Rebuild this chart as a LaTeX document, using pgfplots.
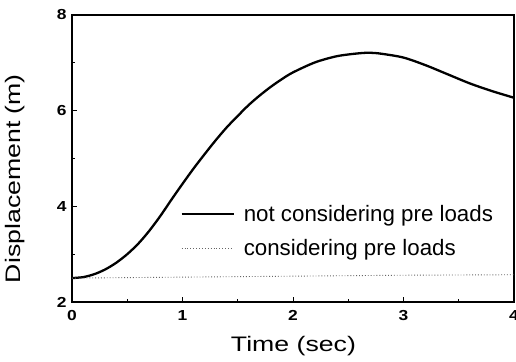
\documentclass[border=0pt]{standalone}
\usepackage{fontspec}
\setmainfont{Liberation Sans}
\usepackage{graphicx}
\usepackage{pgfplots}
\pgfplotsset{compat=1.18}
\begin{document}
\begin{tikzpicture}
\begin{axis}[
  scale only axis,
  width=442pt, height=287pt,
  xmin=0, xmax=4, ymin=2, ymax=8,
  xtick={0,1,2,3,4}, ytick={2,4,6,8},
  minor xtick={0.5,1.5,2.5,3.5},
  minor ytick={3,5,7},
  tick pos=left,
  tick align=inside,
  major tick length=5pt, minor tick length=3pt,
  axis line style={line width=1.2pt},
  every tick/.style={line width=1pt, black},
  /pgf/number format/assume math mode=true,
  xticklabel={\scalebox{1.2}[1]{\pgfmathprintnumber{\tick}}},
  yticklabel={\scalebox{1.2}[1]{\pgfmathprintnumber{\tick}}},
  ticklabel style={font=\fontsize{14.5}{16}\selectfont\bfseries},
  xticklabel style={yshift=-5pt},
  yticklabel style={xshift=-2pt},
  xlabel={\scalebox{1.27}[1]{Time (sec)}},
  ylabel={\scalebox{1.27}[1]{Displacement (m)}},
  label style={font=\fontsize{21}{24}\selectfont},
  x label style={at={(axis description cs:0.501,-0.153)}, anchor=center},
  y label style={at={(axis description cs:-0.129,0.43)}, anchor=center},
  legend image code/.code={\draw[#1] (0pt,0pt) -- (52pt,0pt);},
  legend style={draw=none, fill=none, font=\fontsize{22.3}{24}\selectfont,
    at={(axis description cs:0.245,0.247)}, anchor=west,
    inner sep=0pt, row sep=13pt,
    /tikz/every odd column/.append style={column sep=7pt}},
  legend cell align=left,
]
\addplot[black, line width=2.3pt, smooth] coordinates {
(0,2.50) (0.1,2.52) (0.2,2.58) (0.3,2.68) (0.4,2.82) (0.5,3.00)
(0.6,3.22) (0.7,3.49) (0.8,3.80) (0.9,4.14) (1.0,4.47) (1.1,4.79)
(1.2,5.09) (1.3,5.38) (1.4,5.65) (1.5,5.89) (1.6,6.12) (1.7,6.32)
(1.8,6.50) (1.9,6.66) (2.0,6.80) (2.2,7.01) (2.4,7.14) (2.6,7.20)
(2.7,7.21) (2.8,7.19) (3.0,7.11) (3.2,6.95) (3.4,6.76) (3.6,6.57)
(3.8,6.41) (4.0,6.27)
};
\addlegendentry{not considering pre loads}
\addplot[gray!80!black, line width=0.9pt, dotted] coordinates {
(0,2.50) (1,2.52) (2,2.54) (3,2.56) (4,2.57)
};
\addlegendentry{considering pre loads}
\end{axis}
\pgfresetboundingbox
\path (-72pt,-59pt) rectangle (444pt,302pt);
\end{tikzpicture}
\end{document}
